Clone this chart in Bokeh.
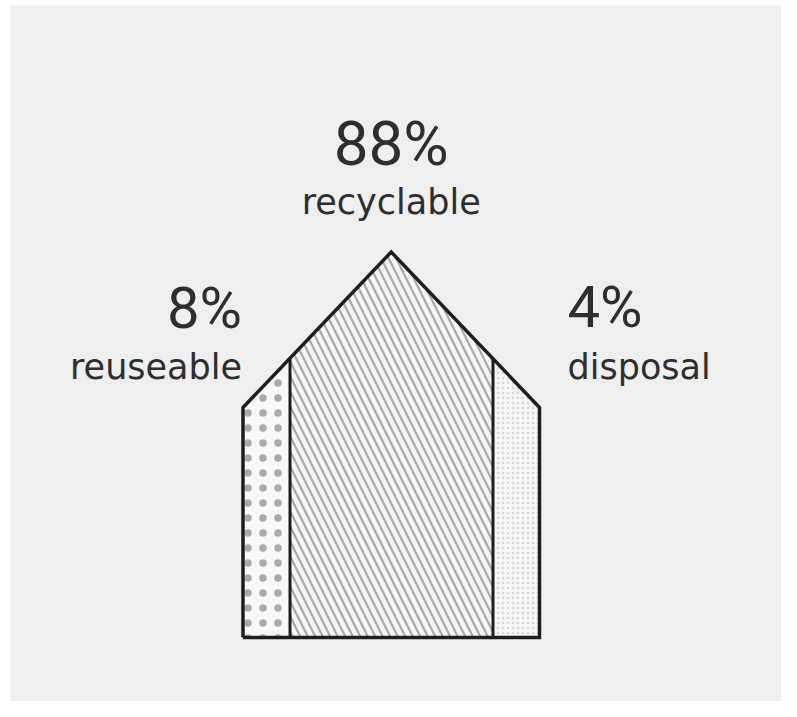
from bokeh.plotting import figure
from bokeh.models import Range1d
from bokeh.core.properties import value
from bokeh.embed import file_html
from bokeh.resources import INLINE

# ---- data ----
categories = ["reuseable", "recyclable", "disposal"]
shares = [8, 88, 4]
share_labels = [f"{s}%" for s in shares]

# ---- layout (picture pixel coordinates) ----
W, H = 781, 701
PAD_L, PAD_T = 10, 5
HOUSE_L, HOUSE_R = 242.5, 539.0
BASE_Y, EAVE_Y = 637.0, 407.0
APEX_X, APEX_Y = 390.7, 251.5
DIV = [289.5, 492.5]


def roof(x):
    if x <= APEX_X:
        return EAVE_Y + (APEX_Y - EAVE_Y) * (x - HOUSE_L) / (APEX_X - HOUSE_L)
    return APEX_Y + (EAVE_Y - APEX_Y) * (x - APEX_X) / (HOUSE_R - APEX_X)


sections = [
    ([HOUSE_L, HOUSE_L, DIV[0], DIV[0]], [BASE_Y, EAVE_Y, roof(DIV[0]), BASE_Y]),
    ([DIV[0], DIV[0], APEX_X, DIV[1], DIV[1]], [BASE_Y, roof(DIV[0]), APEX_Y, roof(DIV[1]), BASE_Y]),
    ([DIV[1], DIV[1], HOUSE_R, HOUSE_R], [BASE_Y, roof(DIV[1]), EAVE_Y, BASE_Y]),
]
styles = [
    dict(fill_color="#f8f8f8", hatch_pattern="dot", hatch_scale=15, hatch_color="#ababab", hatch_weight=1),
    dict(fill_color="#f6f6f6", hatch_pattern="left_diagonal_line", hatch_scale=15, hatch_color="#aaaaaa", hatch_weight=2.2),
    dict(fill_color="#f6f6f6", hatch_pattern="dot", hatch_scale=5, hatch_color="#d6d6d6", hatch_weight=1),
]

BG = "#efefef"
p = figure(width=W, height=H, output_backend="svg", toolbar_location=None,
           x_axis_type=None, y_axis_type=None,
           x_range=Range1d(PAD_L, W), y_range=Range1d(H, PAD_T),
           background_fill_color=BG, border_fill_color="white",
           min_border=0, min_border_left=PAD_L, min_border_top=PAD_T)
p.outline_line_color = None

for (xs, ys), st in zip(sections, styles):
    p.patch(xs, ys, line_color=None, **st)

# dividers
for d in DIV:
    p.line([d, d], [BASE_Y, roof(d)], line_color="#1e1e1e", line_width=3)

# house outline
p.line([HOUSE_L, HOUSE_L, APEX_X, HOUSE_R, HOUSE_R, HOUSE_L],
       [BASE_Y, EAVE_Y, APEX_Y, EAVE_Y, BASE_Y, BASE_Y],
       line_color="#1e1e1e", line_width=3.5, line_join="miter")

# labels (y = visual middle of the text line)
txt_color = "#2e2e2e"
label_x = [HOUSE_L - 1, APEX_X, HOUSE_R + 28]
pct_y = [307, 143, 306]
word_y = [366, 201, 366]
aligns = ["right", "center", "left"]
pct_sizes = ["58px", "62px", "58px"]
pct_font = value("Roboto")
for i in range(3):
    p.text([label_x[i]], [pct_y[i]], text=[share_labels[i]],
           text_font=pct_font, text_font_size=pct_sizes[i],
           text_align=aligns[i], text_baseline="middle", text_color=txt_color)
    p.text([label_x[i]], [word_y[i]], text=[categories[i]],
           text_font=value("DejaVu Sans"), text_font_size="35px",
           text_align=aligns[i], text_baseline="middle", text_color=txt_color)

open("out.html", "w").write(file_html(p, INLINE))
